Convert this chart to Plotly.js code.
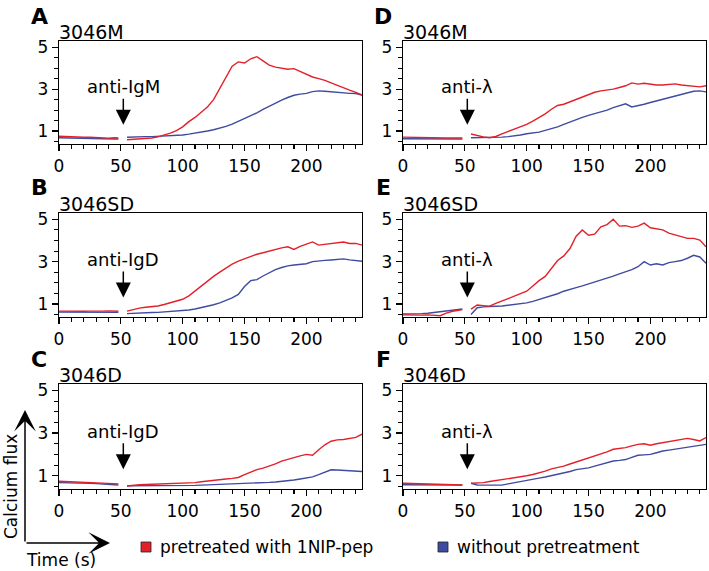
<!DOCTYPE html>
<html>
<head>
<meta charset="utf-8">
<script src="https://cdn.plot.ly/plotly-3.0.1.min.js"></script>
<style>html,body{margin:0;padding:0;background:#fff;}#chart{width:709px;height:571px;}</style>
</head>
<body>
<div id="chart"></div>
<script>
// Time (s); null at 50 = gap during stimulus addition
const time = [0,5,10,15,20,25,30,35,40,45,48,50,
  55,60,65,70,75,80,85,90,95,100,105,110,115,120,125,130,135,140,145,150,
  155,160,165,170,175,180,185,190,195,200,205,210,215,220,225,230,235,240,245];

const panelLetters = ['A','B','C','D','E','F'];
const panelTitles = ['3046M','3046SD','3046D','3046M','3046SD','3046D'];
const stimuli = ['anti-IgM','anti-IgD','anti-IgD','anti-λ','anti-λ','anti-λ'];
const seriesNames = ['pretreated with 1NIP-pep','without pretreatment'];
const xTicks = [0,50,100,150,200];
const yTicks = [1,3,5];

// Panel A
const aRed  = [0.75,0.73,0.72,0.72,0.70,0.70,0.68,0.69,0.66,0.68,0.67,null,
  0.58,0.60,0.62,0.64,0.67,0.72,0.80,0.90,1.02,1.20,1.45,1.65,1.90,2.15,2.50,3.05,3.55,4.10,4.30,4.25,
  4.45,4.55,4.35,4.15,4.05,4.00,3.95,3.98,3.85,3.70,3.58,3.50,3.42,3.30,3.18,3.05,2.95,2.85,2.72];
const aBlue = [0.68,0.67,0.66,0.66,0.65,0.64,0.64,0.63,0.63,0.62,0.62,null,
  0.70,0.72,0.72,0.73,0.73,0.74,0.75,0.76,0.78,0.81,0.85,0.89,0.94,1.00,1.06,1.13,1.22,1.33,1.46,1.60,
  1.73,1.87,2.03,2.19,2.33,2.48,2.60,2.71,2.76,2.80,2.88,2.92,2.90,2.87,2.85,2.83,2.80,2.79,2.72];
// Panel B
const bRed  = [0.66,0.65,0.65,0.64,0.65,0.66,0.65,0.66,0.67,0.66,0.65,null,
  0.66,0.74,0.80,0.84,0.87,0.90,0.97,1.05,1.12,1.22,1.38,1.62,1.85,2.08,2.30,2.50,2.70,2.88,3.02,3.13,
  3.25,3.35,3.42,3.50,3.58,3.65,3.70,3.58,3.72,3.82,3.93,3.78,3.82,3.86,3.88,3.93,3.86,3.86,3.78];
const bBlue = [0.61,0.61,0.60,0.60,0.61,0.60,0.60,0.61,0.61,0.60,0.60,null,
  0.54,0.56,0.57,0.58,0.59,0.60,0.62,0.63,0.65,0.68,0.71,0.76,0.82,0.89,0.96,1.05,1.15,1.28,1.45,1.82,
  2.10,2.15,2.32,2.48,2.62,2.72,2.80,2.84,2.87,2.90,3.00,3.04,3.06,3.08,3.10,3.13,3.08,3.05,3.02];
// Panel C
const cRed  = [0.74,0.73,0.72,0.71,0.69,0.67,0.65,0.64,0.63,0.62,0.62,null,
  0.52,0.56,0.58,0.59,0.60,0.60,0.62,0.62,0.64,0.65,0.66,0.68,0.72,0.76,0.79,0.81,0.85,0.88,0.92,1.05,
  1.18,1.29,1.36,1.45,1.56,1.69,1.78,1.84,1.93,2.00,1.96,2.22,2.45,2.62,2.68,2.70,2.74,2.80,2.95];
const cBlue = [0.68,0.68,0.67,0.67,0.66,0.65,0.63,0.62,0.60,0.59,0.57,null,
  0.53,0.53,0.53,0.52,0.52,0.52,0.52,0.52,0.53,0.53,0.54,0.55,0.56,0.57,0.58,0.59,0.60,0.60,0.62,0.63,
  0.64,0.65,0.67,0.69,0.71,0.73,0.76,0.80,0.85,0.90,0.95,1.05,1.15,1.28,1.27,1.25,1.23,1.21,1.20];
// Panel D
const dRed  = [0.71,0.70,0.70,0.69,0.69,0.68,0.68,0.67,0.67,0.68,0.67,null,
  0.86,0.78,0.72,0.68,0.74,0.86,0.97,1.08,1.20,1.32,1.47,1.64,1.82,2.04,2.22,2.28,2.40,2.52,2.64,2.76,
  2.85,2.92,2.96,3.00,3.08,3.16,3.30,3.24,3.28,3.24,3.20,3.20,3.24,3.25,3.20,3.16,3.14,3.11,3.16];
const dBlue = [0.63,0.63,0.62,0.62,0.62,0.62,0.61,0.61,0.62,0.62,0.62,null,
  0.68,0.68,0.68,0.68,0.70,0.71,0.73,0.76,0.81,0.87,0.90,0.95,1.03,1.11,1.20,1.32,1.44,1.56,1.65,1.75,
  1.83,1.91,2.00,2.12,2.20,2.30,2.15,2.20,2.28,2.36,2.44,2.52,2.60,2.68,2.76,2.84,2.90,2.92,2.87];
// Panel E
const eRed  = [0.48,0.47,0.45,0.47,0.48,0.46,0.44,0.56,0.65,0.70,0.73,null,
  0.75,0.95,0.92,0.89,1.02,1.12,1.25,1.37,1.48,1.60,1.85,2.10,2.30,2.68,3.05,3.27,3.62,4.20,4.50,4.25,
  4.30,4.65,4.75,5.00,4.68,4.70,4.62,4.68,4.82,4.60,4.55,4.50,4.35,4.27,4.20,4.10,4.10,4.02,3.70];
const eBlue = [0.52,0.52,0.52,0.54,0.56,0.60,0.65,0.68,0.72,0.75,0.76,null,
  0.50,0.82,0.86,0.89,0.89,0.90,0.93,0.97,1.00,1.05,1.12,1.21,1.28,1.37,1.48,1.60,1.70,1.77,1.85,1.94,
  2.02,2.10,2.20,2.31,2.42,2.52,2.62,2.76,3.00,2.84,2.90,2.84,2.95,3.00,3.05,3.16,3.30,3.22,2.92];
// Panel F
const fRed  = [0.65,0.64,0.63,0.62,0.60,0.60,0.59,0.58,0.58,0.57,0.57,null,
  0.65,0.65,0.68,0.73,0.77,0.81,0.85,0.89,0.95,1.00,1.06,1.13,1.22,1.32,1.38,1.45,1.55,1.64,1.74,1.84,
  1.92,2.00,2.12,2.24,2.28,2.32,2.40,2.47,2.50,2.43,2.50,2.55,2.62,2.68,2.72,2.75,2.70,2.63,2.79];
const fBlue = [0.58,0.58,0.57,0.57,0.57,0.57,0.57,0.57,0.57,0.57,0.57,null,
  0.65,0.57,0.56,0.55,0.55,0.56,0.62,0.68,0.74,0.80,0.85,0.89,0.94,1.00,1.06,1.13,1.20,1.29,1.33,1.37,
  1.45,1.53,1.60,1.69,1.72,1.76,1.86,1.96,1.98,2.00,2.08,2.16,2.20,2.24,2.28,2.32,2.36,2.40,2.47];

const redSeries = [aRed,bRed,cRed,dRed,eRed,fRed];
const blueSeries = [aBlue,bBlue,cBlue,dBlue,eBlue,fBlue];

const RED = '#e3202a', BLUE = '#3f4b9f';
const FONT = 'DejaVu Sans, Liberation Sans, Arial, sans-serif';
const W = 709, H = 571;
const px = v => v / W;
const py = v => 1 - v / H;

// panel geometry (pixels): [left, right, top, bottom]
const boxes = [
  [59,362,41,144],[59,362,213,317],[59,362,384,489],
  [403,706,41,144],[403,706,213,317],[403,706,384,489]
];

const traces = [];
const layout = {
  width: W, height: H,
  margin: {l:0,r:0,t:0,b:0},
  paper_bgcolor: '#fff', plot_bgcolor: '#fff',
  showlegend: false,
  font: {family: FONT, color: '#000'},
  annotations: [], shapes: []
};

for (let i = 0; i < 6; i++) {
  const n = i === 0 ? '' : String(i + 1);
  const xa = 'x' + n, ya = 'y' + n;
  traces.push({x: time, y: blueSeries[i], xaxis: xa, yaxis: ya, type: 'scatter', mode: 'lines',
    name: seriesNames[1], line: {color: BLUE, width: 1.4}, connectgaps: false});
  traces.push({x: time, y: redSeries[i], xaxis: xa, yaxis: ya, type: 'scatter', mode: 'lines',
    name: seriesNames[0], line: {color: RED, width: 1.4}, connectgaps: false});
  const b = boxes[i];
  const common = {
    showline: true, mirror: true, linecolor: '#000', linewidth: 1.2,
    ticks: 'outside', ticklen: 6, tickwidth: 1.3, tickcolor: '#000',
    showgrid: false, zeroline: false, fixedrange: true,
    tickfont: {family: FONT, size: 17, color: '#000'}
  };
  layout['xaxis' + n] = Object.assign({}, common, {
    domain: [px(b[0]), px(b[1])], anchor: ya, range: [0, 245],
    tickmode: 'linear', tick0: xTicks[0], dtick: xTicks[1] - xTicks[0],
    minor: {tickmode: 'linear', dtick: 10, tick0: 0, ticks: 'outside', ticklen: 3.5, tickcolor: '#000', tickwidth: 1.1, showgrid: false}
  });
  layout['yaxis' + n] = Object.assign({}, common, {
    domain: [py(b[3]), py(b[2])], anchor: xa, range: [0.38, 5.3],
    tickmode: 'linear', tick0: yTicks[0], dtick: yTicks[1] - yTicks[0],
    minor: {tickmode: 'linear', dtick: 0.5, tick0: 0, ticks: 'outside', ticklen: 3.5, tickcolor: '#000', tickwidth: 1.1, showgrid: false}
  });
  // panel letter
  layout.annotations.push({xref: 'paper', yref: 'paper', x: px(b[0] - 20), y: py(b[2] - 25),
    xanchor: 'center', yanchor: 'middle', showarrow: false, text: '<b>' + panelLetters[i] + '</b>',
    font: {family: 'DejaVu Sans, sans-serif', size: 22, color: '#000'}});
  // subtitle
  layout.annotations.push({xref: 'paper', yref: 'paper', x: px(b[0] - 2), y: py(b[2] - 9),
    xanchor: 'left', yanchor: 'middle', showarrow: false, text: panelTitles[i],
    font: {family: FONT, size: 19, color: '#000'}});
  // stimulus arrow
  layout.annotations.push({xref: xa, yref: ya, x: 52, y: 1.3, ax: 0, ay: -38,
    text: stimuli[i], showarrow: true, arrowhead: 2, arrowsize: 2, arrowwidth: 1.5,
    arrowcolor: '#000', font: {family: FONT, size: 18, color: '#000'}});
}

// axis-direction arrows (bottom-left)
layout.annotations.push({xref: 'paper', yref: 'paper', x: px(25), y: py(410), ax: 0, ay: 133,
  text: '', showarrow: true, arrowhead: 3, arrowsize: 2.4, arrowwidth: 1.5, arrowcolor: '#000'});
layout.annotations.push({xref: 'paper', yref: 'paper', x: px(110), y: py(543), ax: -85, ay: 0,
  text: '', showarrow: true, arrowhead: 3, arrowsize: 2.4, arrowwidth: 1.5, arrowcolor: '#000'});
layout.annotations.push({xref: 'paper', yref: 'paper', x: px(11), y: py(487), textangle: -90,
  xanchor: 'center', yanchor: 'middle', showarrow: false, text: 'Calcium flux',
  font: {family: FONT, size: 17, color: '#000'}});
layout.annotations.push({xref: 'paper', yref: 'paper', x: px(61), y: py(560),
  xanchor: 'center', yanchor: 'middle', showarrow: false, text: 'Time (s)',
  font: {family: FONT, size: 17, color: '#000'}});

// legend
const legendItems = [
  {name: seriesNames[0], color: RED, sq: 141, tx: 158},
  {name: seriesNames[1], color: BLUE, sq: 438, tx: 455}
];
legendItems.forEach(it => {
  layout.shapes.push({type: 'rect', xref: 'paper', yref: 'paper',
    x0: px(it.sq), x1: px(it.sq + 10), y0: py(552), y1: py(542),
    fillcolor: it.color, line: {color: '#222', width: 0.8}});
  layout.annotations.push({xref: 'paper', yref: 'paper', x: px(it.tx), y: py(547),
    xanchor: 'left', yanchor: 'middle', showarrow: false, text: it.name,
    font: {family: FONT, size: 17, color: '#000'}});
});

Plotly.newPlot('chart', traces, layout, {displayModeBar: false, staticPlot: true});
</script>
</body>
</html>
